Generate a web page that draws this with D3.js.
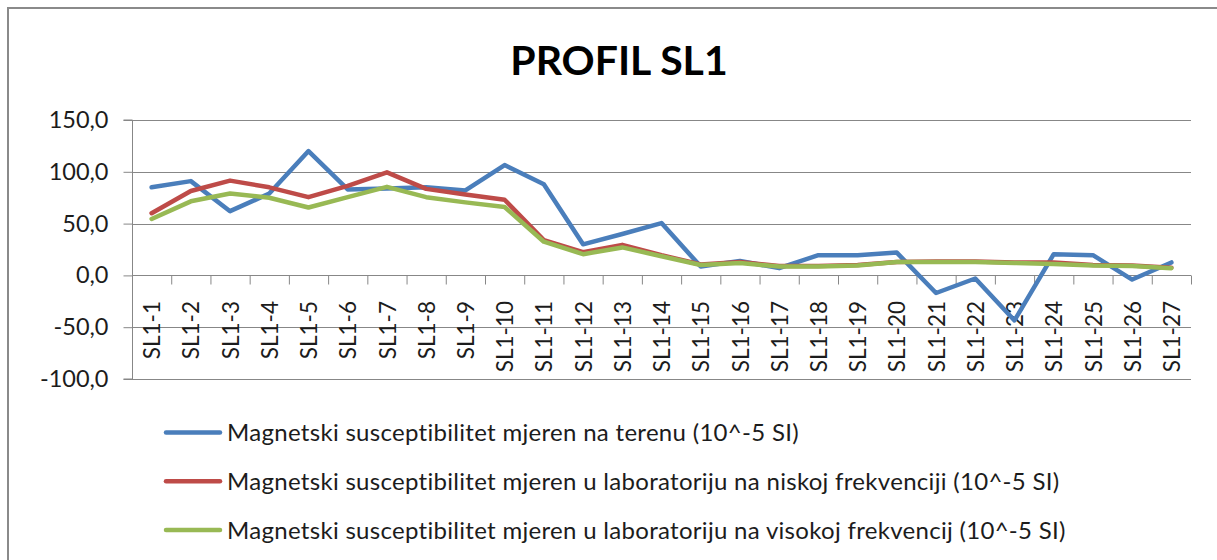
<!DOCTYPE html>
<html>
<head>
<meta charset="utf-8">
<script src="https://cdn.jsdelivr.net/npm/d3@7"></script>
<style>
  html, body { margin: 0; padding: 0; background: #fff; }
  svg { display: block; }
  text { font-family: Lato, "Liberation Sans", sans-serif; fill: #1c1c1c; }
</style>
</head>
<body>
<svg id="chart" width="1217" height="560"></svg>
<script>
const categories = ["SL1-1","SL1-2","SL1-3","SL1-4","SL1-5","SL1-6","SL1-7","SL1-8","SL1-9","SL1-10",
  "SL1-11","SL1-12","SL1-13","SL1-14","SL1-15","SL1-16","SL1-17","SL1-18","SL1-19","SL1-20",
  "SL1-21","SL1-22","SL1-23","SL1-24","SL1-25","SL1-26","SL1-27"];

const fieldValues = [85, 91, 62, 79, 120, 83, 84, 85, 82, 106.5, 88, 30, 40, 50.5, 8.5, 14, 7,
  19.5, 19.5, 22, -17, -3, -43.5, 20.5, 19.5, -4, 12.5];
const lowFreqValues = [60, 81.5, 91.5, 85, 75.5, 86.5, 99.5, 83.5, 78, 73, 34, 22.5, 29.5, 19.5,
  10.5, 13, 9, 9, 10, 13, 13.5, 13.5, 12.5, 12.5, 10, 9.5, 7.5];
const highFreqValues = [54.5, 71.5, 79, 75, 65.5, 75.5, 85.5, 75.5, 70.5, 66, 32.5, 20.5, 27, 18.5,
  10, 12, 8.5, 8.5, 9.5, 13, 13, 13, 12, 11, 9.5, 9, 7];

const seriesNames = [
  "Magnetski susceptibilitet mjeren na terenu (10^-5 SI)",
  "Magnetski susceptibilitet mjeren u laboratoriju na niskoj frekvenciji (10^-5 SI)",
  "Magnetski susceptibilitet mjeren u laboratoriju na visokoj frekvencij (10^-5 SI)"
];
const seriesColors = ["#4A7EBB", "#BE4B48", "#98B954"];
const yTicks = [-100, -50, 0, 50, 100, 150];
const titleText = "PROFIL SL1";

const series = [fieldValues, lowFreqValues, highFreqValues].map((vals, i) => ({
  name: seriesNames[i], color: seriesColors[i], values: vals
}));

const svg = d3.select("#chart");
const plot = { left: 132, right: 1191, top: 120, bottom: 379 };

// chart border
svg.append("rect").attr("x", 8).attr("y", 8).attr("width", 1260).attr("height", 620)
  .attr("fill", "#fff").attr("stroke", "#8a8a8a").attr("stroke-width", 2);

// title
svg.append("text").attr("x", 619).attr("y", 75).attr("text-anchor", "middle")
  .style("font-size", "41px").style("font-weight", "bold").style("fill", "#000")
  .text(titleText);

const x = d3.scaleBand().domain(categories).range([plot.left, plot.right]);
const xEdge = d3.scaleLinear().domain([0, categories.length]).range([plot.left, plot.right]);
const y = d3.scaleLinear().domain([-100, 150]).range([plot.bottom, plot.top]);

const locale = d3.formatLocale({ decimal: ",", thousands: ".", grouping: [3], currency: ["", ""], minus: "-" });
const fmt = locale.format(".1f");

// gridlines
svg.append("g").selectAll("line").data(yTicks).join("line")
  .attr("x1", plot.left).attr("x2", plot.right)
  .attr("y1", d => Math.round(y(d)) + 0.5).attr("y2", d => Math.round(y(d)) + 0.5)
  .attr("stroke", "#878787").attr("stroke-width", 1);

// y axis
const yAxis = svg.append("g").attr("transform", `translate(${plot.left + 0.5},0)`)
  .call(d3.axisLeft(y).tickValues(yTicks).tickSize(9).tickPadding(15).tickFormat(fmt));
yAxis.selectAll("line, path").attr("stroke", "#878787");
yAxis.selectAll("text").style("font-size", "23.5px").style("font-family", null).attr("fill", "#1c1c1c");
yAxis.select(".domain").attr("d", `M-9,${y(150)}H0V${y(-100)}H-9`);

// x axis ticks at category boundaries, on zero line
const xAxis = svg.append("g").attr("transform", `translate(0,${Math.round(y(0)) + 0.5})`)
  .call(d3.axisBottom(xEdge).tickValues(d3.range(0, categories.length + 1)).tickSize(9).tickFormat(""));
xAxis.selectAll("line, path").attr("stroke", "#878787");
xAxis.select(".domain").attr("d", `M${plot.left},0H${plot.right}`);

// category labels
svg.append("g").selectAll("text").data(categories).join("text")
  .attr("transform", d => `translate(${x(d) + x.bandwidth() / 2},301) rotate(-90)`)
  .attr("text-anchor", "end").attr("dy", "0.38em")
  .style("font-size", "22.5px").text(d => d);

// lines
const line = d3.line().x((d, i) => x(categories[i]) + x.bandwidth() / 2).y(d => y(d));
svg.append("g").selectAll("path").data(series).join("path")
  .attr("d", d => line(d.values))
  .attr("fill", "none").attr("stroke", d => d.color).attr("stroke-width", 4.5)
  .attr("stroke-linejoin", "round").attr("stroke-linecap", "round");

// legend
const legendY = [432.5, 481.3, 530];
const lg = svg.append("g").selectAll("g").data(series).join("g")
  .attr("transform", (d, i) => `translate(0,${legendY[i]})`);
lg.append("line").attr("x1", 166).attr("x2", 220).attr("y1", 0).attr("y2", 0)
  .attr("stroke", d => d.color).attr("stroke-width", 4.5).attr("stroke-linecap", "round");
lg.append("text").attr("x", 227).attr("dy", "0.36em").style("font-size", "24px")
  .style("letter-spacing", "0.3px").text(d => d.name);
</script>
</body>
</html>
